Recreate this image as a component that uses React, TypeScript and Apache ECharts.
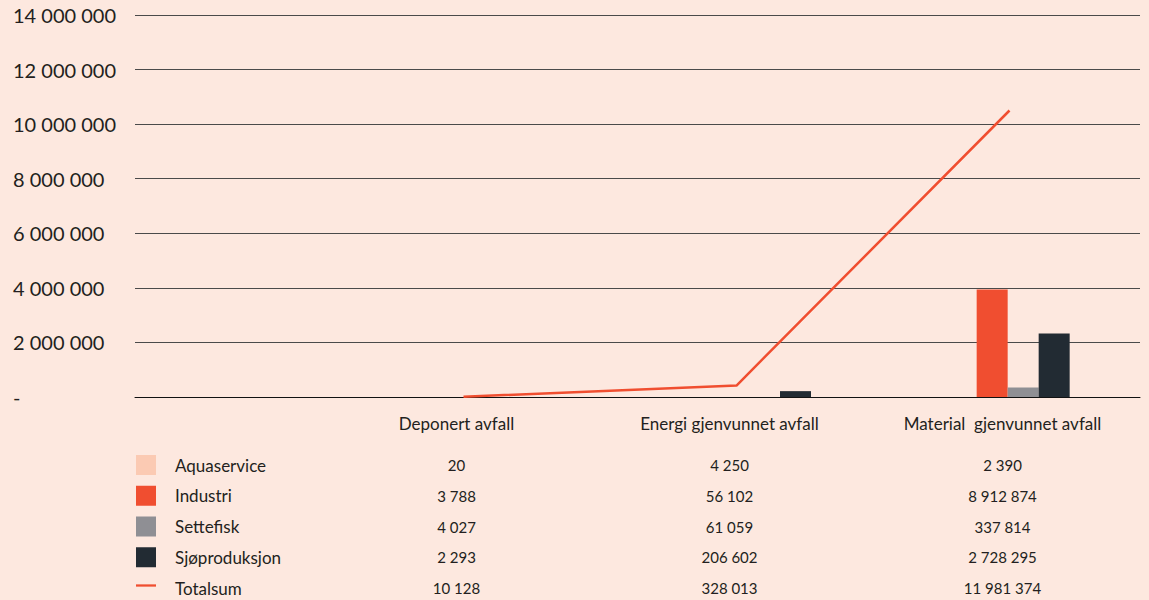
import React, { useEffect, useRef } from "react";
import * as echarts from "echarts";

const categories = ["Deponert avfall", "Energi gjenvunnet avfall", "Material  gjenvunnet avfall"];
const seriesNames = ["Aquaservice", "Industri", "Settefisk", "Sjøproduksjon", "Totalsum"];

// values printed in the data table
const aquaserviceTable = [20, 4250, 2390];
const industriTable = [3788, 56102, 8912874];
const settefiskTable = [4027, 61059, 337814];
const sjoproduksjonTable = [2293, 206602, 2728295];
const totalsumTable = [10128, 328013, 11981374];

const aquaservicePlot = [0, 0, 0];
const industriPlot = [0, 0, 3940000];
const settefiskPlot = [0, 0, 345000];
const sjoproduksjonPlot = [0, 215000, 2330000];
const totalsumPlot = [10128, 420000, 10500000];

const yMin = 0;
const yMax = 14000000;
const yStep = 2000000;

const colors = ["#fbcab3", "#f04e30", "#8f8f94", "#222b33", "#f04e30"];
const FONT = "Lato";
const TEXT = "#231f20";
const BG = "#fde8df";

const fmt = (v: number) =>
  v === 0 ? "-" : String(Math.round(v)).replace(/\B(?=(\d{3})+(?!\d))/g, " ");

export default function App() {
  const ref = useRef<HTMLDivElement>(null);
  useEffect(() => {
    if (!ref.current) return;
    const chart = echarts.init(ref.current, undefined, { renderer: "svg" });
    const gridTop = 15;
    const gridH = 382;
    const tableRows = [
      { data: categories, offset: 17, size: 17 },
      { data: aquaserviceTable.map(fmt), offset: 59, size: 15 },
      { data: industriTable.map(fmt), offset: 89.75, size: 15 },
      { data: settefiskTable.map(fmt), offset: 120.5, size: 15 },
      { data: sjoproduksjonTable.map(fmt), offset: 151.25, size: 15 },
      { data: totalsumTable.map(fmt), offset: 182, size: 15 },
    ];
    const yBase = { min: yMin, max: yMax, interval: yStep, type: "value" as const };
    chart.setOption({
      animation: false,
      backgroundColor: BG,
      textStyle: { fontFamily: FONT },
      grid: [
        { left: 135, right: 9, top: gridTop, height: gridH },
        { left: 361, width: 776, top: gridTop, height: gridH },
        { left: 327, width: 819, top: gridTop, height: gridH },
        { left: 320, width: 819, top: gridTop, height: gridH },
      ],
      xAxis: [
        {
          gridIndex: 0,
          type: "category",
          data: categories,
          axisLine: { show: true, lineStyle: { color: "#111", width: 1 } },
          axisTick: { show: false },
          axisLabel: { show: false },
        },
        { gridIndex: 1, type: "category", data: categories, show: false },
        { gridIndex: 2, type: "category", data: categories, show: false },
        ...tableRows.map((r) => ({
          gridIndex: 3,
          type: "category",
          data: r.data,
          position: "bottom",
          offset: r.offset,
          axisLine: { show: false },
          axisTick: { show: false },
          splitLine: { show: false },
          axisLabel: {
            show: true,
            interval: 0,
            margin: 0,
            fontSize: r.size,
            lineHeight: 18,
            fontFamily: FONT,
            color: TEXT,
          },
        })),
      ],
      yAxis: [
        {
          ...yBase,
          gridIndex: 0,
          axisLine: { show: false },
          axisTick: { show: false },
          splitLine: { show: true, lineStyle: { color: "#4a4a4a", width: 1 } },
          axisLabel: {
            align: "left",
            margin: 122,
            fontSize: 20,
            fontFamily: FONT,
            color: TEXT,
            formatter: (v: number) => fmt(v),
          },
        },
        { ...yBase, gridIndex: 1, show: false },
        { ...yBase, gridIndex: 2, show: false },
        { ...yBase, gridIndex: 3, show: false },
      ],
      legend: {
        orient: "vertical",
        left: 136,
        top: 455,
        padding: 0,
        height: 145,
        itemWidth: 20,
        itemHeight: 20,
        itemGap: 10.75,
        selectedMode: false,
        data: [
          { name: seriesNames[0], icon: "rect" },
          { name: seriesNames[1], icon: "rect" },
          { name: seriesNames[2], icon: "rect" },
          { name: seriesNames[3], icon: "rect" },
          {
            name: seriesNames[4],
            icon: "path://M0,0L0,0M20,20L20,20M-2,6L20,6L20,8.5L-2,8.5Z",
            itemStyle: { color: colors[4], borderWidth: 0 },
          },
        ],
        textStyle: {
          fontSize: 17,
          lineHeight: 20,
          fontFamily: FONT,
          color: TEXT,
          padding: [0, 0, 0, 14],
        },
      },
      series: [
        ...[aquaservicePlot, industriPlot, settefiskPlot, sjoproduksjonPlot].map((d, i) => ({
          name: seriesNames[i],
          type: "bar",
          xAxisIndex: 1,
          yAxisIndex: 1,
          barWidth: 31,
          barGap: "0%",
          data: d,
          itemStyle: { color: colors[i] },
        })),
        {
          name: seriesNames[4],
          type: "line",
          xAxisIndex: 2,
          yAxisIndex: 2,
          symbol: "none",
          data: totalsumPlot,
          lineStyle: { color: colors[4], width: 2.5 },
          itemStyle: { color: colors[4] },
          z: 5,
        },
      ],
    });
    return () => chart.dispose();
  }, []);
  return (
    <div
      ref={ref}
      style={{ position: "absolute", left: 0, top: 0, width: 1149, height: 600, background: BG }}
    />
  );
}
